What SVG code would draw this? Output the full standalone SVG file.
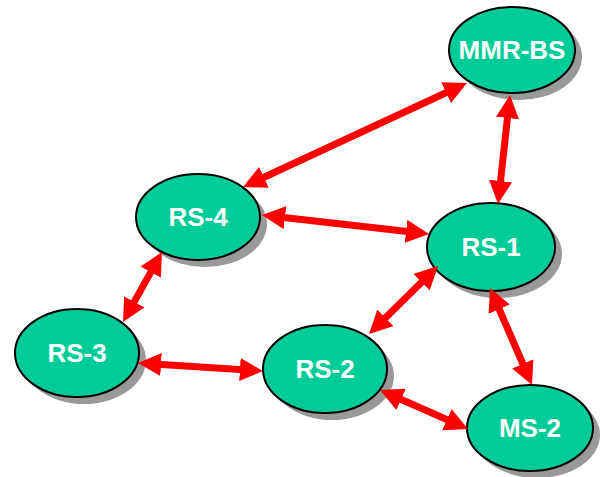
<svg xmlns="http://www.w3.org/2000/svg" width="602" height="477" viewBox="0 0 602 477">
  <style>
    .shadow { fill: #999999; }
    .node { fill: #00cc99; stroke: #000000; stroke-width: 2; }
    .label { fill: #ffffff; font-family: "Liberation Sans", Arial, sans-serif; font-weight: bold; font-size: 26px; text-anchor: middle; }
    .link { stroke: #ff0000; stroke-width: 7; fill: none; marker-start: url(#head); marker-end: url(#head); }
  </style>
  <defs>
    <marker id="head" viewBox="0 0 3.3 3.3" refX="0.5" refY="1.65" markerWidth="3.3" markerHeight="3.3" markerUnits="strokeWidth" orient="auto-start-reverse">
      <path d="M0,0 L3.3,1.65 L0,3.3 z" fill="#ff0000"/>
    </marker>
  </defs>
  <rect width="602" height="477" fill="#ffffff"/>

  <!-- nodes -->
  <g id="mmr-bs">
    <ellipse class="shadow" cx="519" cy="57" rx="63" ry="43"/>
    <ellipse class="node" cx="512" cy="50" rx="63" ry="43"/>
    <text class="label" x="512" y="59">MMR-BS</text>
  </g>
  <g id="rs-4">
    <ellipse class="shadow" cx="205" cy="224" rx="62" ry="43"/>
    <ellipse class="node" cx="198" cy="217" rx="62" ry="43"/>
    <text class="label" x="198" y="226">RS-4</text>
  </g>
  <g id="rs-1">
    <ellipse class="shadow" cx="498" cy="254" rx="64" ry="44"/>
    <ellipse class="node" cx="491" cy="247" rx="64" ry="44"/>
    <text class="label" x="491" y="256">RS-1</text>
  </g>
  <g id="rs-3">
    <ellipse class="shadow" cx="84" cy="360" rx="62" ry="44"/>
    <ellipse class="node" cx="77" cy="353" rx="62" ry="44"/>
    <text class="label" x="77" y="362">RS-3</text>
  </g>
  <g id="rs-2">
    <ellipse class="shadow" cx="332" cy="376" rx="62" ry="44"/>
    <ellipse class="node" cx="325" cy="369" rx="62" ry="44"/>
    <text class="label" x="325" y="378">RS-2</text>
  </g>
  <g id="ms-2">
    <ellipse class="shadow" cx="537" cy="435" rx="63" ry="43"/>
    <ellipse class="node" cx="530" cy="428" rx="63" ry="43"/>
    <text class="label" x="530" y="437">MS-2</text>
  </g>

  <!-- connectors (double-headed links) -->
  <g id="links">
    <line class="link" x1="449.2" y1="91.25" x2="260.8" y2="178.75"/>
    <line class="link" x1="507.86" y1="114.48" x2="500.14" y2="184.52"/>
    <line class="link" x1="281.47" y1="217.22" x2="409.53" y2="231.78"/>
    <line class="link" x1="152.46" y1="269.12" x2="132.54" y2="304.88"/>
    <line class="link" x1="157.56" y1="364.25" x2="243.44" y2="369.75"/>
    <line class="link" x1="424.04" y1="279.76" x2="382.96" y2="320.24"/>
    <line class="link" x1="497.79" y1="305.99" x2="524.21" y2="367.01"/>
    <line class="link" x1="397.92" y1="397.94" x2="450.08" y2="421.06"/>
  </g>
</svg>
